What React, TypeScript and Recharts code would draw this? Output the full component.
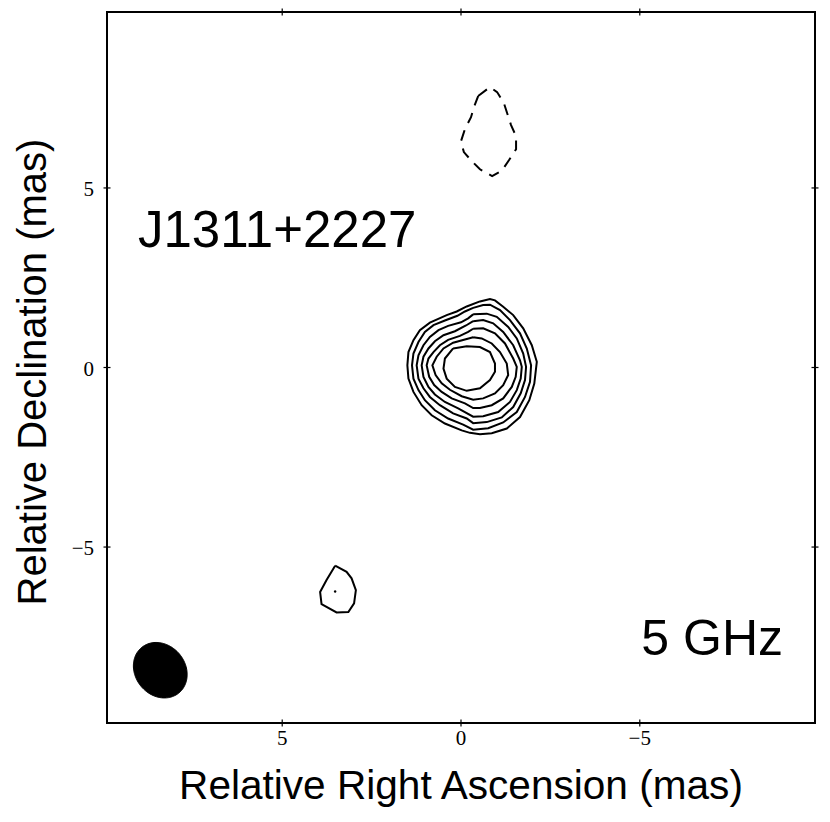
import React from "react";
import {
  ComposedChart,
  XAxis,
  YAxis,
  Line,
  Area,
  Scatter,
} from "recharts";

// ---- Axis ticks / domain (mas) ----
const xTicks = [-5, 0, 5];
const yTicks = [-5, 0, 5];
const axisDomain: [number, number] = [-9.9, 9.9];

// ---- Positive contours (Relative RA, Relative Dec in mas), outer -> inner ----
const contour1 = [
  { x: -0.53, y: 1.84 }, { x: -0.81, y: 1.91 }, { x: -0.95, y: 1.87 }, { x: -1.18, y: 1.69 },
  { x: -1.46, y: 1.46 }, { x: -1.74, y: 1.09 }, { x: -1.98, y: 0.62 }, { x: -2.12, y: 0.16 },
  { x: -2.05, y: -0.45 }, { x: -1.91, y: -0.91 }, { x: -1.65, y: -1.38 }, { x: -1.28, y: -1.7 },
  { x: -0.86, y: -1.83 }, { x: -0.53, y: -1.86 }, { x: -0.25, y: -1.82 }, { x: -0.02, y: -1.75 },
  { x: 0.45, y: -1.56 }, { x: 0.82, y: -1.33 }, { x: 1.1, y: -1.05 }, { x: 1.33, y: -0.68 },
  { x: 1.47, y: -0.31 }, { x: 1.5, y: 0.06 }, { x: 1.47, y: 0.43 }, { x: 1.33, y: 0.76 },
  { x: 1.15, y: 1.04 }, { x: 0.87, y: 1.25 }, { x: 0.4, y: 1.46 }, { x: 0.12, y: 1.56 },
  { x: -0.16, y: 1.7 },
];
const contour2 = [
  { x: -0.34, y: 1.66 }, { x: -0.62, y: 1.74 }, { x: -0.81, y: 1.75 }, { x: -1.09, y: 1.6 },
  { x: -1.37, y: 1.32 }, { x: -1.65, y: 0.95 }, { x: -1.84, y: 0.53 }, { x: -1.96, y: 0.06 },
  { x: -1.93, y: -0.4 }, { x: -1.79, y: -0.82 }, { x: -1.56, y: -1.24 }, { x: -1.18, y: -1.53 },
  { x: -0.76, y: -1.69 }, { x: -0.34, y: -1.73 }, { x: -0.06, y: -1.59 }, { x: 0.36, y: -1.42 },
  { x: 0.73, y: -1.19 }, { x: 1.01, y: -0.91 }, { x: 1.19, y: -0.63 }, { x: 1.33, y: -0.31 },
  { x: 1.37, y: 0.06 }, { x: 1.33, y: 0.39 }, { x: 1.19, y: 0.71 }, { x: 1.01, y: 0.99 },
  { x: 0.77, y: 1.18 }, { x: 0.45, y: 1.31 }, { x: 0.1, y: 1.44 }, { x: -0.11, y: 1.56 },
];
const contour3 = [
  { x: -0.34, y: 1.48 }, { x: -0.72, y: 1.5 }, { x: -1.0, y: 1.41 }, { x: -1.32, y: 1.13 },
  { x: -1.56, y: 0.81 }, { x: -1.74, y: 0.39 }, { x: -1.82, y: 0.02 }, { x: -1.79, y: -0.35 },
  { x: -1.67, y: -0.72 }, { x: -1.46, y: -1.1 }, { x: -1.14, y: -1.39 }, { x: -0.72, y: -1.52 },
  { x: -0.34, y: -1.55 }, { x: -0.16, y: -1.42 }, { x: 0.22, y: -1.28 }, { x: 0.59, y: -1.05 },
  { x: 0.87, y: -0.82 }, { x: 1.05, y: -0.58 }, { x: 1.19, y: -0.31 }, { x: 1.24, y: 0.06 },
  { x: 1.19, y: 0.34 }, { x: 1.05, y: 0.62 }, { x: 0.87, y: 0.85 }, { x: 0.63, y: 1.04 },
  { x: 0.36, y: 1.16 }, { x: 0.0, y: 1.26 }, { x: -0.2, y: 1.37 },
];
const contour4 = [
  { x: -0.34, y: 1.29 }, { x: -0.62, y: 1.32 }, { x: -0.9, y: 1.23 }, { x: -1.18, y: 0.99 },
  { x: -1.46, y: 0.62 }, { x: -1.65, y: 0.2 }, { x: -1.7, y: 0.02 }, { x: -1.67, y: -0.31 },
  { x: -1.56, y: -0.63 }, { x: -1.37, y: -0.96 }, { x: -1.04, y: -1.24 }, { x: -0.62, y: -1.36 },
  { x: -0.34, y: -1.37 }, { x: 0.08, y: -1.14 }, { x: 0.45, y: -0.96 }, { x: 0.73, y: -0.75 },
  { x: 0.91, y: -0.54 }, { x: 1.05, y: -0.26 }, { x: 1.1, y: 0.06 }, { x: 1.05, y: 0.3 },
  { x: 0.91, y: 0.53 }, { x: 0.73, y: 0.73 }, { x: 0.49, y: 0.9 }, { x: 0.17, y: 1.01 },
  { x: -0.14, y: 1.17 },
];
const contour5 = [
  { x: -0.34, y: 1.08 }, { x: -0.62, y: 1.09 }, { x: -0.95, y: 0.95 }, { x: -1.23, y: 0.67 },
  { x: -1.46, y: 0.25 }, { x: -1.56, y: 0.02 }, { x: -1.53, y: -0.26 }, { x: -1.42, y: -0.54 },
  { x: -1.18, y: -0.86 }, { x: -0.86, y: -1.05 }, { x: -0.53, y: -1.13 }, { x: -0.34, y: -1.13 },
  { x: -0.11, y: -1.0 }, { x: 0.26, y: -0.86 }, { x: 0.54, y: -0.68 }, { x: 0.75, y: -0.49 },
  { x: 0.89, y: -0.26 }, { x: 0.96, y: 0.06 }, { x: 0.91, y: 0.25 }, { x: 0.77, y: 0.43 },
  { x: 0.59, y: 0.62 }, { x: 0.36, y: 0.77 }, { x: 0.03, y: 0.88 }, { x: -0.2, y: 0.99 },
];
const contour6 = [
  { x: -0.34, y: 0.84 }, { x: -0.58, y: 0.81 }, { x: -0.86, y: 0.67 }, { x: -1.09, y: 0.43 },
  { x: -1.28, y: 0.11 }, { x: -1.32, y: -0.21 }, { x: -1.18, y: -0.49 }, { x: -0.95, y: -0.72 },
  { x: -0.62, y: -0.86 }, { x: -0.34, y: -0.9 }, { x: -0.02, y: -0.8 }, { x: 0.31, y: -0.62 },
  { x: 0.54, y: -0.44 }, { x: 0.71, y: -0.21 }, { x: 0.8, y: 0.06 }, { x: 0.68, y: 0.3 },
  { x: 0.49, y: 0.53 }, { x: 0.22, y: 0.69 }, { x: -0.11, y: 0.78 },
];
const contour7 = [
  { x: 0.22, y: 0.53 }, { x: -0.16, y: 0.59 }, { x: -0.53, y: 0.57 }, { x: -0.81, y: 0.43 },
  { x: -0.95, y: 0.11 }, { x: -0.95, y: -0.12 }, { x: -0.81, y: -0.35 }, { x: -0.53, y: -0.58 },
  { x: -0.16, y: -0.65 }, { x: 0.17, y: -0.54 }, { x: 0.4, y: -0.31 }, { x: 0.49, y: -0.03 },
  { x: 0.45, y: 0.25 },
];
// small positive contour to the south-east
const contourSmall = [
  { x: 3.52, y: -5.52 }, { x: 3.2, y: -5.69 }, { x: 3.06, y: -5.87 }, { x: 2.94, y: -6.2 },
  { x: 2.99, y: -6.57 }, { x: 3.15, y: -6.81 }, { x: 3.48, y: -6.82 }, { x: 3.9, y: -6.59 },
  { x: 3.94, y: -6.25 }, { x: 3.76, y: -5.92 },
];
const smallPeak = [{ x: 3.52, y: -6.24 }];
// negative (dashed) contour to the north
const contourNeg = [
  { x: -0.48, y: 7.56 }, { x: -0.81, y: 7.81 }, { x: -1.01, y: 7.67 }, { x: -1.2, y: 7.36 },
  { x: -1.4, y: 6.75 }, { x: -1.54, y: 6.44 }, { x: -1.54, y: 6.08 }, { x: -1.34, y: 5.77 },
  { x: -1.15, y: 5.49 }, { x: -0.87, y: 5.33 }, { x: -0.53, y: 5.52 }, { x: -0.28, y: 5.77 },
  { x: -0.08, y: 6.0 }, { x: 0.0, y: 6.3 }, { x: -0.11, y: 6.64 }, { x: -0.28, y: 6.97 },
  { x: -0.36, y: 7.25 },
];

const positiveContours = [contour1, contour2, contour3, contour4, contour5, contour6, contour7, contourSmall];

// ---- Restoring beam (mas, degrees) ----
const beam = { x: 8.41, y: -8.43, major: 0.82, minor: 0.7, angle: 50 };

const sourceName = "J1311+2227";
const bandLabel = "5 GHz";
const xLabel = "Relative Right Ascension (mas)";
const yLabel = "Relative Declination (mas)";

const closeRing = (pts: { x: number; y: number }[]) => [...pts, pts[0]];

function beamOutline() {
  const t = (beam.angle * Math.PI) / 180;
  const a = beam.major;
  const b = beam.minor;
  const c = Math.cos(t);
  const s = Math.sin(t);
  const A = (s * s) / (a * a) + (c * c) / (b * b);
  const hw = Math.sqrt(a * a * c * c + b * b * s * s);
  const pts: { x: number; range: [number, number] }[] = [];
  const n = 80;
  for (let i = 0; i <= n; i++) {
    const dx = -hw * Math.cos((Math.PI * i) / n);
    const B = 2 * dx * s * c * (1 / (a * a) - 1 / (b * b));
    const C = dx * dx * ((c * c) / (a * a) + (s * s) / (b * b)) - 1;
    const r = Math.sqrt(Math.max(0, B * B - 4 * A * C));
    pts.push({
      x: beam.x + dx,
      range: [beam.y + (-B - r) / (2 * A), beam.y + (-B + r) / (2 * A)],
    });
  }
  return pts;
}
const beamData = beamOutline();

const tickFont = "'Liberation Serif', 'DejaVu Serif', serif";
const sansFont = "'Liberation Sans', Arial, sans-serif";
const fmt = (v: number) => (v < 0 ? "\u2212" + Math.abs(v) : String(v));

const BottomTick = (props: any) => {
  const { x, y, payload } = props;
  return (
    <g>
      <line x1={x} x2={x} y1={y - 3.5} y2={y + 3.5} stroke="#000" strokeWidth={1.2} />
      <text x={x} y={y + 22} textAnchor="middle" fontFamily={tickFont} fontSize={21} fill="#000">
        {fmt(payload.value)}
      </text>
    </g>
  );
};
const TopTick = (props: any) => {
  const { x, y } = props;
  return <line x1={x} x2={x} y1={y - 3.5} y2={y + 3.5} stroke="#000" strokeWidth={1.2} />;
};
const LeftTick = (props: any) => {
  const { x, y, payload } = props;
  return (
    <g>
      <line x1={x - 3.5} x2={x + 3.5} y1={y} y2={y} stroke="#000" strokeWidth={1.2} />
      <text x={x - 13} y={y + 8} textAnchor="end" fontFamily={tickFont} fontSize={21} fill="#000">
        {fmt(payload.value)}
      </text>
    </g>
  );
};
const RightTick = (props: any) => {
  const { x, y } = props;
  return <line x1={x - 3.5} x2={x + 3.5} y1={y} y2={y} stroke="#000" strokeWidth={1.2} />;
};

const axisLineStyle = { stroke: "#000", strokeWidth: 2, strokeLinecap: "square" as const };

export default function App() {
  return (
    <div style={{ position: "absolute", left: 0, top: 0, width: 830, height: 822, background: "#fff" }}>
      <ComposedChart
        width={830}
        height={822}
        margin={{ top: 11, right: 14, bottom: 0, left: 0 }}
      >
        <XAxis
          dataKey="x"
          type="number"
          domain={axisDomain}
          allowDataOverflow
          reversed
          ticks={xTicks}
          height={99}
          tickSize={0}
          tickMargin={0}
          tickLine={false}
          axisLine={axisLineStyle}
          tick={<BottomTick />}
          interval={0}
        />
        <XAxis
          xAxisId="top"
          orientation="top"
          dataKey="x"
          type="number"
          domain={axisDomain}
          allowDataOverflow
          reversed
          ticks={xTicks}
          height={1}
          tickSize={0}
          tickMargin={0}
          tickLine={false}
          axisLine={axisLineStyle}
          tick={<TopTick />}
          interval={0}
        />
        <YAxis
          type="number"
          domain={axisDomain}
          allowDataOverflow
          ticks={yTicks}
          width={107}
          tickSize={0}
          tickMargin={0}
          tickLine={false}
          axisLine={axisLineStyle}
          tick={<LeftTick />}
          interval={0}
        />
        <YAxis
          yAxisId="right"
          orientation="right"
          type="number"
          domain={axisDomain}
          allowDataOverflow
          ticks={yTicks}
          width={1}
          tickSize={0}
          tickMargin={0}
          tickLine={false}
          axisLine={axisLineStyle}
          tick={<RightTick />}
          interval={0}
        />

        <Area
          data={beamData}
          dataKey="range"
          type="linear"
          fill="#000"
          fillOpacity={1}
          stroke="#000"
          strokeWidth={1}
          isAnimationActive={false}
          dot={false}
          activeDot={false}
        />

        {positiveContours.map((c, i) => (
          <Line
            key={"pos" + i}
            data={closeRing(c)}
            dataKey="y"
            type="linear"
            stroke="#000"
            strokeWidth={2}
            dot={false}
            activeDot={false}
            isAnimationActive={false}
          />
        ))}
        <Line
          data={closeRing(contourNeg)}
          dataKey="y"
          type="linear"
          stroke="#000"
          strokeWidth={2}
          strokeDasharray="11 8"
          dot={false}
          activeDot={false}
          isAnimationActive={false}
        />
        <Scatter
          data={smallPeak}
          dataKey="y"
          fill="#000"
          isAnimationActive={false}
          shape={(p: any) => <circle cx={p.cx} cy={p.cy} r={1.2} fill="#000" />}
        />

        <text x={138} y={247} fontFamily={sansFont} fontSize={51} fill="#000">
          {sourceName}
        </text>
        <text x={783} y={655} textAnchor="end" fontFamily={sansFont} fontSize={50} fill="#000">
          {bandLabel}
        </text>
        <text x={461} y={799} textAnchor="middle" fontFamily={sansFont} fontSize={40.6} fill="#000">
          {xLabel}
        </text>
        <text
          transform="translate(46,372) rotate(-90)"
          textAnchor="middle"
          fontFamily={sansFont}
          fontSize={40}
          fill="#000"
        >
          {yLabel}
        </text>
      </ComposedChart>
    </div>
  );
}
